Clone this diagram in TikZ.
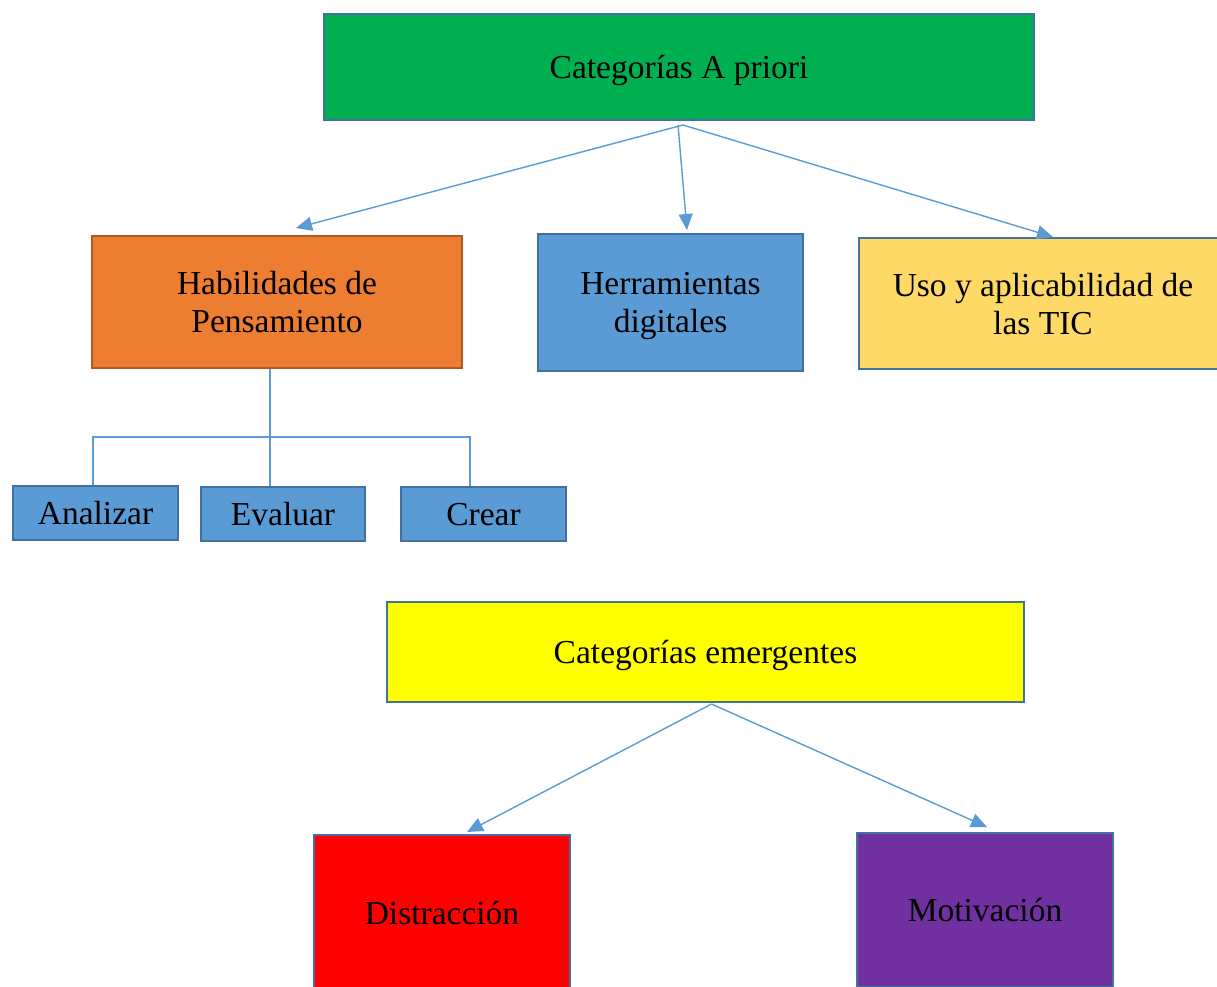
\documentclass[tikz,border=0pt]{standalone}
\usepackage{fontspec}
\setmainfont{Liberation Serif}
\usepackage{tikz}
\usetikzlibrary{arrows.meta}
\definecolor{verde}{HTML}{00B050}
\definecolor{naranja}{HTML}{ED7D31}
\definecolor{naranjaborde}{HTML}{AE5A21}
\definecolor{azul}{HTML}{5B9BD5}
\definecolor{azulborde}{HTML}{41719C}
\definecolor{oro}{HTML}{FFD966}
\definecolor{amarillo}{HTML}{FFFF00}
\definecolor{rojo}{HTML}{FF0000}
\definecolor{morado}{HTML}{7030A0}

\begin{document}
\begin{tikzpicture}[x=1pt, y=-1pt,
		caja/.style={draw=azulborde, line width=2pt, inner sep=0pt, text depth=0pt, align=center, font=\fontsize{33.5}{38}\selectfont},
		flecha/.style={draw=azul, line width=1.4pt, arrows={-Triangle[length=16pt, width=14pt]}},
		rama/.style={draw=azul, line width=1.2pt}]
		\useasboundingbox (0, 0) rectangle (1217, 986);
		\begin{scope}
		\clip (0, 0) rectangle (1217, 986);
		\node[caja, fill=verde, minimum width=710pt, minimum height=106pt] (apriori) at (679, 67) {Categorías A priori};
		\node[caja, fill=naranja, draw=naranjaborde, minimum width=370pt, minimum height=132pt] (habilidades) at (277, 302) {Habilidades de\\Pensamiento};
		\node[caja, fill=azul, minimum width=265pt, minimum height=137pt] (herramientas) at (670.5, 302.5) {Herramientas\\digitales};
		\node[caja, fill=oro, minimum width=368pt, minimum height=131pt] (uso) at (1043, 303.5) {Uso y aplicabilidad de\\las TIC};
		\node[caja, fill=azul, minimum width=165pt, minimum height=54pt] (analizar) at (95.5, 513) {Analizar};
		\node[caja, fill=azul, minimum width=164pt, minimum height=54pt] (evaluar) at (283, 514) {Evaluar};
		\node[caja, fill=azul, minimum width=165pt, minimum height=54pt] (crear) at (483.5, 514) {Crear};
		\node[caja, fill=amarillo, minimum width=637pt, minimum height=100pt] (emergentes) at (705.5, 652) {Categorías emergentes};
		\node[caja, fill=rojo, minimum width=256pt, minimum height=156pt] (distraccion) at (442, 913) {Distracción};
		\node[caja, fill=morado, minimum width=256pt, minimum height=154pt] (motivacion) at (985, 910) {Motivación};
		\end{scope}

		\draw[flecha] ([xshift=4pt, yshift=-4pt]apriori.south) -- ([xshift=19pt, yshift=7pt]habilidades.north);
		\draw[flecha] ([xshift=-1pt, yshift=-4pt]apriori.south) -- ([xshift=16.5pt, yshift=3pt]herramientas.north);
		\draw[flecha] ([xshift=4pt, yshift=-4pt]apriori.south) -- ([xshift=10pt, yshift=0pt]uso.north);

		\coordinate (nudo) at (270, 437);
		\draw[rama] ([xshift=-7pt]habilidades.south) -- (nudo);
		\draw[rama] ([xshift=-2.5pt]analizar.north) |- (nudo) -| ([xshift=-13.5pt]crear.north);
		\draw[rama] (nudo) -- ([xshift=-13pt]evaluar.north);

		\draw[flecha] ([xshift=6pt, yshift=-1pt]emergentes.south) -- ([xshift=25pt, yshift=2pt]distraccion.north);
		\draw[flecha] ([xshift=6pt, yshift=-1pt]emergentes.south) -- ([xshift=2pt, yshift=5pt]motivacion.north);

	\end{tikzpicture}
\end{document}
